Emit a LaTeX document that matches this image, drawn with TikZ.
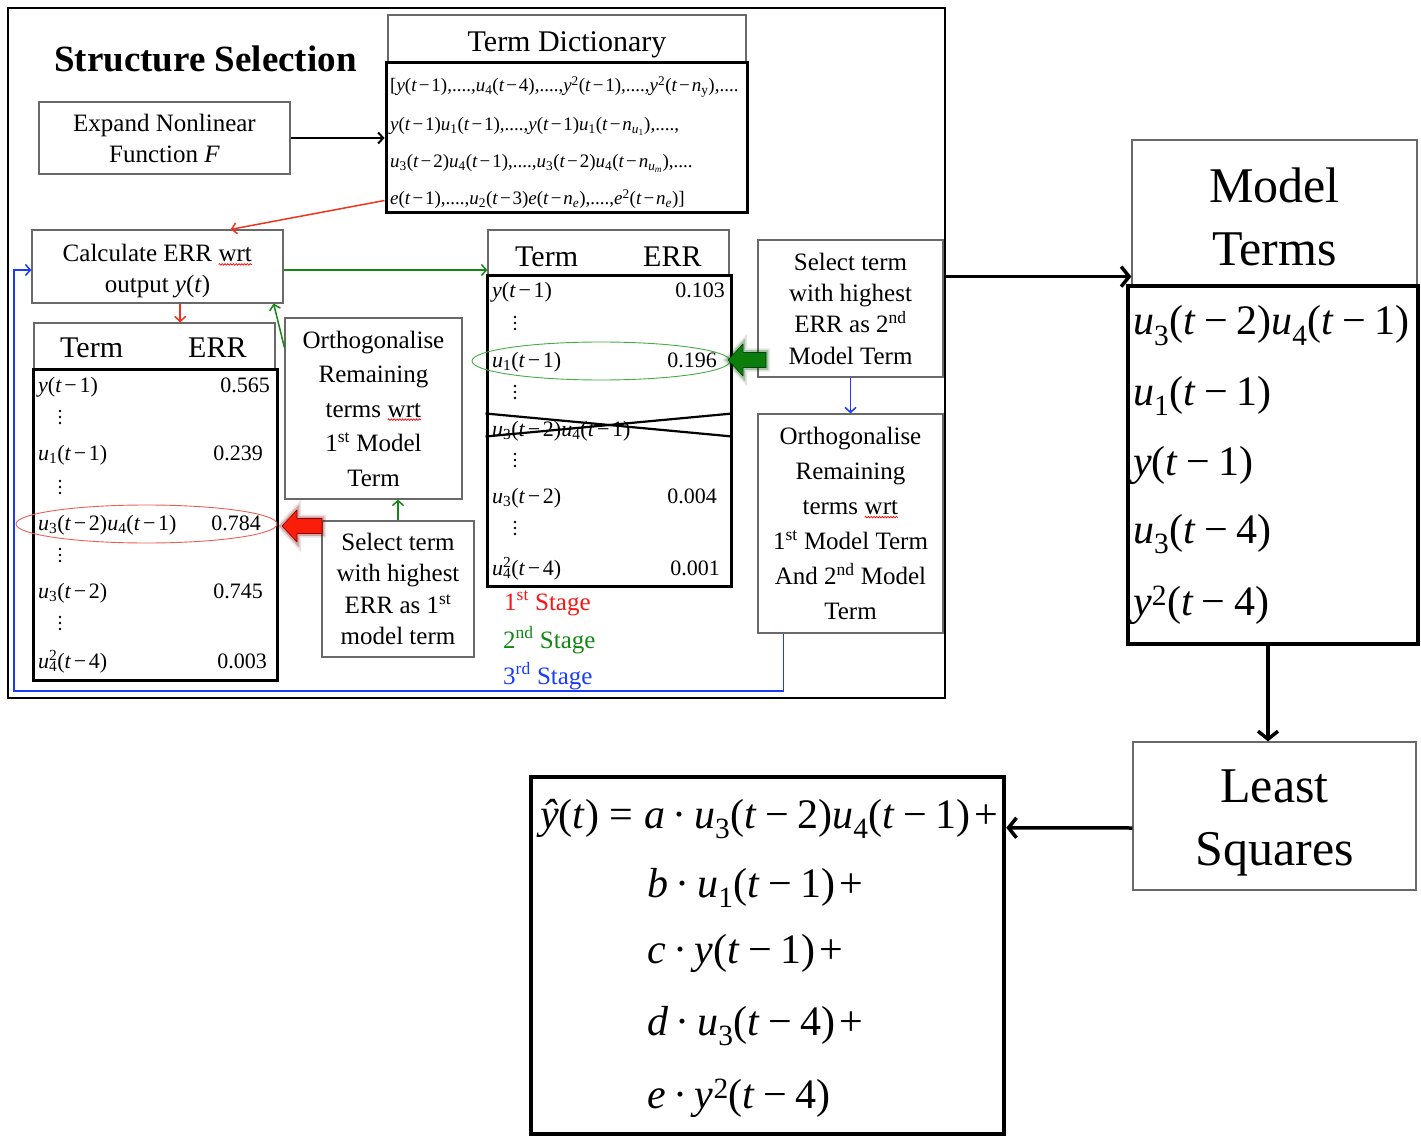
\documentclass[tikz,border=0pt]{standalone}
\usepackage{fontspec}
\setmainfont{Liberation Serif}
\usetikzlibrary{arrows.meta,shapes.geometric,decorations.pathmorphing,calc}

\definecolor{errred}{RGB}{238,52,30}
\definecolor{ringred}{RGB}{232,95,85}
\definecolor{stagered}{RGB}{250,20,20}
\definecolor{stagegreen}{RGB}{18,135,18}
\definecolor{ringgreen}{RGB}{70,170,70}
\definecolor{loopblue}{RGB}{25,60,250}
\definecolor{boxgray}{RGB}{105,105,105}
\definecolor{redfill}{RGB}{250,30,10}
\definecolor{greenfill}{RGB}{10,125,10}

% typesetting helpers for the regression terms
\newcommand{\Iv}[1]{\textit{#1}}
\newcommand{\MnsSp}{0.2em}
\newcommand{\Mns}{\hspace{\MnsSp}−\hspace{\MnsSp}}
\newcommand{\Dn}[1]{\textsubscript{#1}}
\newcommand{\Up}[1]{\textsuperscript{#1}}
\newcommand{\DnUp}[2]{\rlap{\textsubscript{#1}}\textsuperscript{#2}}
\newcommand{\Lag}[1]{(\Iv{t}\Mns#1)}
\newcommand{\Dotp}{\hspace{0.18em}·\hspace{0.18em}}
\newcommand{\Eqs}{\hspace{0.25em}=\hspace{0.25em}}

\tikzset{
  spellwave/.style={draw=red, line width=0.7pt, decorate,
    decoration={snake, amplitude=0.8pt, segment length=2.8pt}},
}
% word with a red wavy underline
\newcommand{\Wavy}[1]{\tikz[baseline=(wv.base)]{\node[inner sep=0pt, outer sep=0pt,
  minimum width=0pt, minimum height=0pt, anchor=base, shape=rectangle] (wv) {#1};
  \draw[spellwave] ([yshift=-2.6pt]wv.base west) -- ([yshift=-2.6pt]wv.base east);}}

\begin{document}
\begin{tikzpicture}[x=1pt, y=-1pt,
  graybox/.style={draw=boxgray, line width=1.2pt, inner sep=0pt, align=center},
  heavybox/.style={draw=black, line width=3pt, inner sep=0pt},
  boxtext/.style={font=\fontsize{25}{31}\selectfont},
  cell/.style={font=\fontsize{22}{24}\selectfont\renewcommand{\MnsSp}{0.12em}, inner sep=0pt, anchor=base west},
  cellval/.style={font=\fontsize{22}{24}\selectfont, inner sep=0pt, anchor=base east},
  head/.style={font=\fontsize{30}{32}\selectfont, inner sep=0pt, anchor=base west},
  big/.style={font=\fontsize{42}{44}\selectfont, inner sep=0pt, anchor=base west},
  thin arrow/.style={line width=1.5pt, -{Straight Barb[length=5pt,width=11pt]}},
  bigarrow/.style={line width=3.5pt, -{Straight Barb[length=8pt,width=20pt]}},
  dotcol/.pic={\fill (0,-6) circle (1.3); \fill (0,0) circle (1.3); \fill (0,6) circle (1.3);},
]
\useasboundingbox (0,0) rectangle (1421,1139);

% ---------- structure selection frame ----------
\node[draw=black, line width=1.5pt, minimum width=937, minimum height=690, inner sep=0pt] (frame) at (476.5,353) {};
\node[font=\bfseries\fontsize{37}{40}\selectfont, inner sep=0pt, anchor=base west] (title) at (54,72) {Structure Selection};

% term dictionary
\node[graybox, minimum width=358, minimum height=48] (dicthead) at (567,39) {};
\node[font=\fontsize{30}{32}\selectfont, inner sep=0pt, anchor=base] (dicttitle) at (567,52) {Term Dictionary};
\node[heavybox, minimum width=361, minimum height=150] (dict) at (566.5,138) {};
\begin{scope}[every node/.style={font=\fontsize{19}{22}\selectfont\renewcommand{\MnsSp}{0.1em}, inner sep=0pt, anchor=base west}]
\node (d1) at (390,92) {[\Iv{y}\Lag{1},....,\Iv{u}\Dn{4}\Lag{4},....,\Iv{y}\Up{2}\Lag{1},....,\Iv{y}\Up{2}(\Iv{t}\Mns\Iv{n}\Dn{y}),....};
\node (d2) at (390,131) {\Iv{y}\Lag{1}\Iv{u}\Dn{1}\Lag{1},....,\Iv{y}\Lag{1}\Iv{u}\Dn{1}(\Iv{t}\Mns\Iv{n}\Dn{\Iv{u}\Dn{1}}),....,};
\node (d3) at (390,168) {\Iv{u}\Dn{3}\Lag{2}\Iv{u}\Dn{4}\Lag{1},....,\Iv{u}\Dn{3}\Lag{2}\Iv{u}\Dn{4}(\Iv{t}\Mns\Iv{n}\Dn{\Iv{u}\Dn{\Iv{m}}}),....};
\node (d4) at (390,205) {\Iv{e}\Lag{1},....,\Iv{u}\Dn{2}\Lag{3}\Iv{e}(\Iv{t}\Mns\Iv{n}\Dn{\Iv{e}}),....,\Iv{e}\Up{2}(\Iv{t}\Mns\Iv{n}\Dn{\Iv{e}})]};
\end{scope}

% process boxes
\node[graybox, boxtext, minimum width=251, minimum height=72] (expand) at (164.5,138) {Expand Nonlinear\\Function \Iv{F}};
\node[graybox, boxtext, minimum width=251, minimum height=73] (calc) at (157.5,266.5) {\rule{0pt}{27pt}Calculate ERR \Wavy{wrt}\\output \Iv{y}(\Iv{t})};
\node[graybox, font=\fontsize{25}{34.5}\selectfont, minimum width=177, minimum height=181] (ortho1) at (373.5,408.5)
  {Orthogonalise\\Remaining\\terms \Wavy{wrt}\\1\Up{st} Model\\Term};
\node[graybox, font=\fontsize{25}{31.3}\selectfont, minimum width=152, minimum height=136] (select1) at (398,589)
  {Select term\\with highest\\ERR as 1\Up{st}\\model term};
\node[graybox, font=\fontsize{25}{31.3}\selectfont, minimum width=185, minimum height=137] (select2) at (850.5,308.5)
  {Select term\\with highest\\ERR as 2\Up{nd}\\Model Term};
\node[graybox, font=\fontsize{25}{35}\selectfont, minimum width=185, minimum height=219] (ortho2) at (850.5,523.5)
  {Orthogonalise\\Remaining\\terms \Wavy{wrt}\\1\Up{st} Model Term\\And 2\Up{nd} Model\\Term};

% first ERR table
\node[graybox, minimum width=241, minimum height=46] (lhead) at (154.5,346) {};
\node[head] (lterm) at (60,358) {Term};
\node[head] (lerr) at (188,358) {ERR};
\node[heavybox, minimum width=244, minimum height=311] (lbody) at (155,524.5) {};
\node[cell] (l1) at (38,392) {\Iv{y}\Lag{1}};
\node[cellval] (l1v) at (270,392) {0.565};
\node[cell] (l2) at (38,460) {\Iv{u}\Dn{1}\Lag{1}};
\node[cellval] (l2v) at (263,460) {0.239};
\node[cell] (l3) at (38,530) {\Iv{u}\Dn{3}\Lag{2}\Iv{u}\Dn{4}\Lag{1}};
\node[cellval] (l3v) at (261,530) {0.784};
\node[cell] (l4) at (38,598) {\Iv{u}\Dn{3}\Lag{2}};
\node[cellval] (l4v) at (263,598) {0.745};
\node[cell] (l5) at (38,668) {\Iv{u}\DnUp{4}{2}\Lag{4}};
\node[cellval] (l5v) at (267,668) {0.003};
\foreach \yy in {417,487,555,623} \pic at (60,\yy) {dotcol};
\node[ellipse, draw=ringred, line width=0.9pt, minimum width=261, minimum height=38, inner sep=0pt] (redring) at (146.5,524) {};

% second ERR table
\node[graybox, minimum width=241, minimum height=46] (mhead) at (608.5,253) {};
\node[head] (mterm) at (515,267) {Term};
\node[head] (merr) at (643,267) {ERR};
\node[heavybox, minimum width=244, minimum height=310] (mbody) at (609,431) {};
\node[cell] (m1) at (492,298) {\Iv{y}\Lag{1}};
\node[cellval] (m1v) at (725,298) {0.103};
\node[cell] (m2) at (492,367) {\Iv{u}\Dn{1}\Lag{1}};
\node[cellval] (m2v) at (717,367) {0.196};
\node[cell] (m3) at (492,436) {\Iv{u}\Dn{3}\Lag{2}\Iv{u}\Dn{4}\Lag{1}};
\node[cell] (m4) at (492,503) {\Iv{u}\Dn{3}\Lag{2}};
\node[cellval] (m4v) at (717,503) {0.004};
\node[cell] (m5) at (492,575) {\Iv{u}\DnUp{4}{2}\Lag{4}};
\node[cellval] (m5v) at (720,575) {0.001};
\foreach \yy in {323,392,460,528} \pic at (515,\yy) {dotcol};
\node[ellipse, draw=ringgreen, line width=0.9pt, minimum width=258, minimum height=38, inner sep=0pt] (greenring) at (601,361) {};
% already selected term struck out
\draw[line width=2.2pt] ($(mbody.north west)+(0,139)$) -- ($(mbody.north east)+(0,162)$);
\draw[line width=2.2pt] ($(mbody.north west)+(0,162)$) -- ($(mbody.north east)+(0,139)$);

% stage legend
\node[font=\fontsize{25}{28}\selectfont, text=stagered, inner sep=0pt, anchor=base west] (st1) at (504,610) {1\Up{st} Stage};
\node[font=\fontsize{25}{28}\selectfont, text=stagegreen, inner sep=0pt, anchor=base west] (st2) at (503,648) {2\Up{nd} Stage};
\node[font=\fontsize{25}{28}\selectfont, text=loopblue, inner sep=0pt, anchor=base west] (st3) at (503,684) {3\Up{rd} Stage};

% block pointers
\coordinate (redtip) at (282,526);
\filldraw[shift={(redtip)}, fill=redfill, draw=red!55!black, line width=0.6pt, line join=round,
  preaction={draw=red!45!black, line width=8pt, opacity=0.12},
  preaction={draw=red!45!black, line width=4.5pt, opacity=0.25}]
  (0,0) -- (15,-16) -- (15,-7.5) -- (40,-7.5) -- (40,7.5) -- (15,7.5) -- (15,16) -- cycle;
\coordinate (greentip) at (728,360);
\filldraw[shift={(greentip)}, fill=greenfill, draw=green!25!black, line width=0.6pt, line join=round,
  preaction={draw=green!25!black, line width=8pt, opacity=0.12},
  preaction={draw=green!25!black, line width=4.5pt, opacity=0.25}]
  (0,0) -- (15,-16) -- (15,-7.5) -- (38,-7.5) -- (38,7.5) -- (15,7.5) -- (15,16) -- cycle;

% connectors inside the frame
\draw[thin arrow, black, line width=2pt] (expand.east) -- (expand.east -| dict.west);
\draw[thin arrow, errred] ($(dict.south west)+(0,-14)$) -- ($(calc.north west)!0.79!(calc.north east)$);
\coordinate (rdown) at ($(calc.south west)!0.59!(calc.south east)$);
\draw[thin arrow, errred] (rdown) -- (rdown |- lhead.north);
\coordinate (gout) at ($(calc.east)+(0,3.5)$);
\draw[thin arrow, stagegreen] (gout) -- (gout -| mhead.west);
\draw[thin arrow, stagegreen] ($(ortho1.north west)+(0,30)$) -- ($(calc.south east)+(-10,0)$);
\draw[thin arrow, stagegreen] (select1.north) -- (select1.north |- ortho1.south);
\draw[thin arrow, loopblue] (select2.south) -- (ortho2.north);
\coordinate (loopstart) at ($(ortho2.south west)+(26,0)$);
\coordinate (loopcorner) at (14,691);
\coordinate (loopin) at ($(calc.west)+(0,3.5)$);
\draw[thin arrow, loopblue] (loopstart) |- (loopcorner) |- (loopin);

% ---------- model terms ----------
\node[graybox, font=\fontsize{50}{63}\selectfont, minimum width=285, minimum height=145] (mthead) at (1274.5,212.5) {\rule{0pt}{43pt}Model\\Terms};
\node[draw=black, line width=4.5pt, minimum width=290, minimum height=358, inner sep=0pt] (mtbody) at (1273,465) {};
\node[big] (t1) at (1133,335) {\Iv{u}\Dn{3}\Lag{2}\Iv{u}\Dn{4}\Lag{1}};
\node[big] (t2) at (1133,405) {\Iv{u}\Dn{1}\Lag{1}};
\node[big] (t3) at (1133,475) {\Iv{y}\Lag{1}};
\node[big] (t4) at (1133,543) {\Iv{u}\Dn{3}\Lag{4}};
\node[big] (t5) at (1133,615) {\Iv{y}\Up{2}\Lag{4}};

% ---------- least squares ----------
\node[graybox, font=\fontsize{50}{63}\selectfont, minimum width=283, minimum height=148] (lsq) at (1274.5,816) {\rule{0pt}{47pt}Least\\Squares};
\node[draw=black, line width=4.5pt, minimum width=473, minimum height=357, inner sep=0pt] (eq) at (767.5,955.5) {};
\node[big] (e1) at (540,828) {\Iv{ŷ}(\Iv{t})\Eqs\Iv{a}\Dotp\Iv{u}\Dn{3}\Lag{2}\Iv{u}\Dn{4}\Lag{1}\hspace{0.1em}+};
\node[big] (e2) at (647,897) {\Iv{b}\Dotp\Iv{u}\Dn{1}\Lag{1}\hspace{0.1em}+};
\node[big] (e3) at (647,963) {\Iv{c}\Dotp\Iv{y}\Lag{1}\hspace{0.1em}+};
\node[big] (e4) at (647,1035) {\Iv{d}\Dotp\Iv{u}\Dn{3}\Lag{4}\hspace{0.1em}+};
\node[big] (e5) at (647,1108) {\Iv{e}\Dotp\Iv{y}\Up{2}\Lag{4}};

% ---------- main flow ----------
\coordinate (mtin) at ($(mthead.south west)+(0,-9)$);
\draw[bigarrow] (frame.east |- mtin) -- (mtin);
\coordinate (mtout) at ($(mtbody.south west)!0.483!(mtbody.south east)$);
\draw[bigarrow] (mtout) -- (mtout |- lsq.north);
\draw[bigarrow] ($(lsq.west)+(0,12)$) -- ($(eq.north east)+(0,53)$);
\end{tikzpicture}
\end{document}
